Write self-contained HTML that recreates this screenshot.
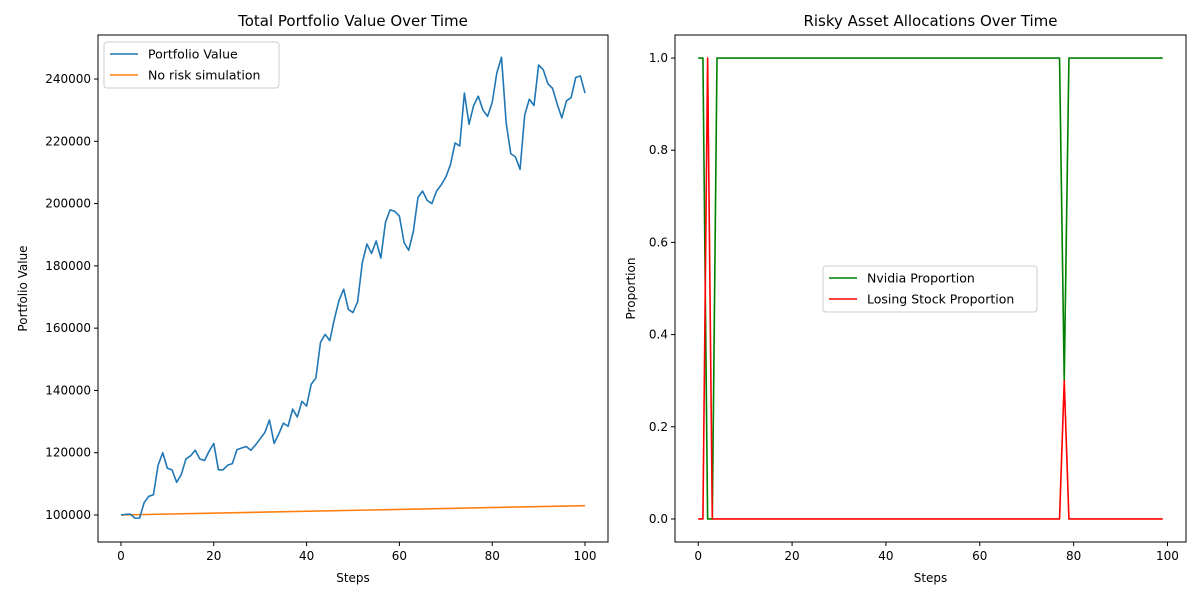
<!DOCTYPE html>
<html><head><meta charset="utf-8"><style>body{margin:0;background:#fff}svg{display:block;font-family:"DejaVu Sans","Liberation Sans",sans-serif}</style></head>
<body>
<svg id="fig" width="1200" height="600"></svg>
<script>
const pvSteps=[];for(let i=0;i<=100;i++)pvSteps.push(i);
const portfolioValues=[100000,100200,100300,99000,99000,104000,106000,106500,116000,120000,115000,114500,110500,113000,118000,119000,120800,118000,117500,120500,123000,114500,114500,116000,116500,121000,121500,122000,120800,122500,124500,126500,130500,123000,126000,129500,128500,134000,131500,136500,135000,142000,144000,155500,158000,156000,163000,169000,172500,166000,165000,168500,181000,187000,184000,188000,182500,194000,198000,197500,196000,187500,185000,191000,202000,204000,201000,200000,204000,206000,208500,212500,219500,218500,235500,225500,231500,234500,230000,228000,232500,242000,247000,226000,216000,215000,211000,228500,233500,231500,244500,243000,238500,237000,232000,227500,233000,234000,240500,241000,235500];
const noRiskSteps=[0,100];
const noRiskValues=[100000,103000];
const leftYTicks=[100000,120000,140000,160000,180000,200000,220000,240000];
const xTicks=[0,20,40,60,80,100];
const allocSteps=[0,1,2,3,4,76,77,78,79,99];
const nvidiaProp=[1,1,0,0,1,1,1,0.3,1,1];
const losingProp=[0,0,1,0,0,0,0,0.3,0,0];
const rightYTicks=[0,0.2,0.4,0.6,0.8,1.0];

const NS="http://www.w3.org/2000/svg";
const svg=document.getElementById('fig');
function el(t,a,p){const e=document.createElementNS(NS,t);for(const k in a)e.setAttribute(k,a[k]);(p||svg).appendChild(e);return e;}
function txt(s,a,p){const e=el('text',a,p);e.textContent=s;return e;}

function axes(name,L,T,W,H,xmin,xmax,ymin,ymax,xt,yt,yfmt,title,ylab){
  const g=el('g',{});
  
  
  const sx=v=>L+(v-xmin)/(xmax-xmin)*W, sy=v=>T+H-(v-ymin)/(ymax-ymin)*H;
  xt.forEach(v=>{const x=sx(v);el('line',{x1:x,x2:x,y1:T+H,y2:T+H+4,stroke:'#000'},g);
    const t=txt(String(v),{x:x,y:T+H+18,'font-size':12,'text-anchor':'middle'},g);
    });
  yt.forEach(v=>{const y=sy(v);el('line',{x1:L-4,x2:L,y1:y,y2:y,stroke:'#000'},g);
    const t=txt(yfmt(v),{x:L-7,y:y+4,'font-size':12,'text-anchor':'end'},g);
    });
  const tt=txt(title,{x:L+W/2,y:T-9,'font-size':15,'text-anchor':'middle'},g);
  
  const xl=txt('Steps',{x:L+W/2,y:T+H+40,'font-size':12,'text-anchor':'middle'},g);
  
  const yx=L-(name==='left-chart'?71:40), yy=T+H/2;
  const yl=txt(ylab,{x:yx,y:yy,'font-size':12,'text-anchor':'middle',transform:`rotate(-90 ${yx} ${yy})`},g);
  
  return {g,sx,sy,frame:()=>{const r=el('rect',{x:L,y:T,width:W,height:H,fill:'none',stroke:'#000','stroke-width':1},g);}};
}
function line(ax,xs,ys,color,name){
  const p=el('polyline',{points:xs.map((x,i)=>ax.sx(x)+','+ax.sy(ys[i])).join(' '),fill:'none',stroke:color,'stroke-width':1.6,'stroke-linejoin':'round'},ax.g);
  
}
function legend(ax,x,y,w,items){
  const g=el('g',{},ax.g);
  
  el('rect',{x:x,y:y,width:w,height:items.length*21+4,rx:3,fill:'#fff','fill-opacity':0.85,stroke:'#ccc'},g);
  items.forEach((it,i)=>{const cy=y+12+i*21;
    el('line',{x1:x+6,x2:x+34,y1:cy,y2:cy,stroke:it[1],'stroke-width':1.6},g);
    const t=txt(it[0],{x:x+44,y:cy+4.5,'font-size':12.5},g);
    });
}
const A=axes('left-chart',98,35,510,507,-4.95,104.95,91330,254140,xTicks,leftYTicks,v=>String(v),'Total Portfolio Value Over Time','Portfolio Value');
line(A,noRiskSteps,noRiskValues,'#ff7f0e','no-risk-line');
line(A,pvSteps,portfolioValues,'#1f77b4','portfolio-value-line');
A.frame();
legend(A,104,42,175,[['Portfolio Value','#1f77b4'],['No risk simulation','#ff7f0e']]);

const B=axes('right-chart',675,35,511,507,-4.95,103.95,-0.05,1.05,xTicks,rightYTicks,v=>v.toFixed(1),'Risky Asset Allocations Over Time','Proportion');
line(B,allocSteps,nvidiaProp,'green','nvidia-line');
line(B,allocSteps,losingProp,'red','losing-stock-line');
B.frame();
legend(B,823,266,214,[['Nvidia Proportion','green'],['Losing Stock Proportion','red']]);
</script>
</body></html>
